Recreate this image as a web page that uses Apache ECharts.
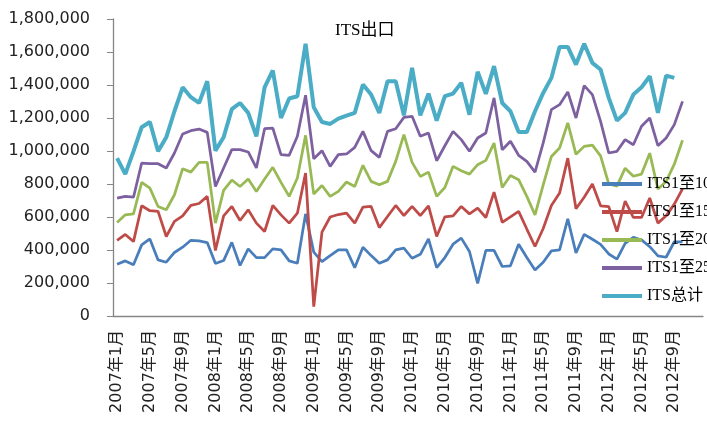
<!DOCTYPE html>
<html>
<head>
<meta charset="utf-8">
<script src="https://cdn.jsdelivr.net/npm/echarts@6/dist/echarts.min.js"></script>
<style>
  html, body { margin: 0; padding: 0; background: #fff; }
  #chart { width: 707px; height: 423px; }
</style>
</head>
<body>
<div id="chart"></div>
<script>
// month labels, Jan 2007 .. Dec 2012 (axis runs to end of 2012)
var years = [2007, 2008, 2009, 2010, 2011, 2012];
var months = [1, 2, 3, 4, 5, 6, 7, 8, 9, 10, 11, 12];
var cats = [];
years.forEach(function (y) {
  months.forEach(function (m) { cats.push(y + '年' + m + '月'); });
});

var yTicks = { min: 0, max: 1800000, step: 200000 };

var seriesNames = ['ITS1至10', 'ITS1至15', 'ITS1至20', 'ITS1至25', 'ITS总计'];

var its10 = [313000, 334000, 310000, 431000, 467000, 340000, 326000, 385000, 417000, 459000, 455000, 445000,
  318000, 336000, 446000, 306000, 407000, 354000, 354000, 407000, 401000, 334000, 320000, 619000,
  387000, 330000, 366000, 401000, 401000, 293000, 417000, 366000, 320000, 340000, 401000, 411000,
  350000, 374000, 467000, 293000, 354000, 435000, 472000, 391000, 198000, 397000, 397000, 300000,
  304000, 435000, 354000, 279000, 326000, 395000, 401000, 589000, 382000, 495000, 465000, 434000,
  376000, 345000, 440000, 477000, 461000, 420000, 364000, 356000, 450000, 450000];

var its15 = [459000, 494000, 451000, 668000, 638000, 634000, 482000, 573000, 607000, 670000, 682000, 725000,
  397000, 607000, 664000, 579000, 644000, 563000, 512000, 670000, 613000, 563000, 623000, 866000,
  57000, 508000, 600000, 615000, 623000, 563000, 660000, 664000, 536000, 603000, 670000, 609000,
  664000, 609000, 668000, 482000, 601000, 607000, 664000, 619000, 654000, 597000, 751000, 567000,
  601000, 634000, 527000, 421000, 530000, 670000, 745000, 957000, 650000, 720000, 800000, 668000,
  663000, 511000, 697000, 597000, 597000, 715000, 563000, 607000, 678000, 770000];

var its20 = [567000, 613000, 619000, 810000, 775000, 664000, 644000, 735000, 893000, 872000, 931000, 931000,
  563000, 761000, 824000, 785000, 830000, 755000, 830000, 901000, 810000, 725000, 836000, 1095000,
  739000, 791000, 725000, 755000, 812000, 785000, 913000, 816000, 795000, 816000, 937000, 1099000,
  931000, 846000, 872000, 725000, 779000, 907000, 880000, 860000, 917000, 943000, 1048000, 779000,
  852000, 826000, 725000, 613000, 795000, 967000, 1018000, 1170000, 980000, 1028000, 1036000, 970000,
  800000, 787000, 896000, 847000, 860000, 987000, 770000, 815000, 920000, 1065000];

var its25 = [714000, 725000, 720000, 927000, 923000, 923000, 897000, 988000, 1103000, 1123000, 1133000, 1113000,
  785000, 897000, 1008000, 1008000, 994000, 897000, 1135000, 1139000, 978000, 974000, 1089000, 1338000,
  953000, 1002000, 907000, 978000, 982000, 1022000, 1119000, 1002000, 961000, 1119000, 1135000, 1204000,
  1210000, 1089000, 1109000, 941000, 1032000, 1119000, 1069000, 998000, 1079000, 1109000, 1322000, 1008000,
  1059000, 974000, 937000, 872000, 1049000, 1251000, 1281000, 1358000, 1200000, 1396000, 1342000, 1180000,
  988000, 998000, 1069000, 1038000, 1150000, 1200000, 1032000, 1079000, 1160000, 1301000];

var itsTotal = [957000, 860000, 998000, 1144000, 1176000, 998000, 1083000, 1241000, 1386000, 1326000, 1291000, 1423000,
  1002000, 1083000, 1254000, 1291000, 1231000, 1089000, 1386000, 1488000, 1200000, 1318000, 1332000, 1650000,
  1265000, 1176000, 1164000, 1196000, 1214000, 1231000, 1403000, 1342000, 1231000, 1423000, 1423000, 1216000,
  1504000, 1216000, 1348000, 1184000, 1332000, 1348000, 1413000, 1220000, 1480000, 1346000, 1514000, 1291000,
  1241000, 1115000, 1115000, 1241000, 1352000, 1443000, 1631000, 1631000, 1524000, 1650000, 1534000, 1494000,
  1322000, 1184000, 1231000, 1342000, 1386000, 1453000, 1231000, 1457000, 1443000];

var colors = ['#4A7EBB', '#BE4B48', '#98B954', '#7D60A0', '#4BACC6'];
var widths = [2.75, 2.75, 2.75, 2.75, 4];
var values = [its10, its15, its20, its25, itsTotal];

var axisGray = '#868686';
var sansFont = 'DejaVu Sans, Noto Sans CJK SC, sans-serif';
var serifFont = 'Liberation Serif, Noto Sans CJK SC, serif';

var chart = echarts.init(document.getElementById('chart'));
var option = {
  animation: false,
  title: {
    text: 'ITS出口',
    left: 330,
    top: 17,
    textStyle: { fontSize: 17, fontWeight: 'normal', fontFamily: serifFont, color: '#000' }
  },
  legend: {
    data: seriesNames,
    orient: 'vertical',
    left: 597,
    top: 171,
    icon: 'rect',
    itemWidth: 40,
    itemHeight: 4,
    itemGap: 12,
    textStyle: { fontSize: 16, lineHeight: 16, fontFamily: serifFont, color: '#000' }
  },
  grid: { left: 113, right: 4, top: 19, bottom: 107 },
  xAxis: {
    type: 'category',
    data: cats,
    boundaryGap: true,
    axisLine: { lineStyle: { color: axisGray, width: 1.3 } },
    axisTick: { interval: 3, length: 6, lineStyle: { color: axisGray } },
    axisLabel: {
      interval: 3, rotate: 90, margin: 14,
      fontSize: 16, fontFamily: sansFont, color: '#222'
    },
    splitLine: { show: false }
  },
  yAxis: {
    type: 'value',
    min: yTicks.min,
    max: yTicks.max,
    interval: yTicks.step,
    axisLine: { show: true, lineStyle: { color: axisGray, width: 1.3 } },
    axisTick: { show: true, length: 6, lineStyle: { color: axisGray } },
    axisLabel: {
      margin: 23, fontSize: 16, fontFamily: sansFont, color: '#222',
      formatter: function (v) { return v.toLocaleString('en-US'); }
    },
    splitLine: { show: false }
  },
  series: seriesNames.map(function (name, k) {
    return {
      name: name,
      type: 'line',
      data: values[k],
      symbol: 'none',
      itemStyle: { color: colors[k] },
      lineStyle: { color: colors[k], width: widths[k] }
    };
  })
};
chart.setOption(option);
</script>
</body>
</html>
